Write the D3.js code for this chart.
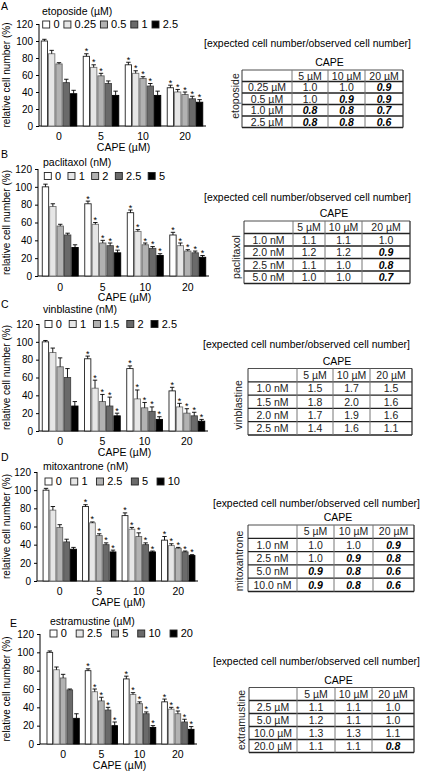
<!DOCTYPE html>
<html><head><meta charset="utf-8">
<script src="https://cdn.jsdelivr.net/npm/d3@7"></script>
<style>body{margin:0;background:#fff}svg{display:block}text{font-family:"Liberation Sans",Arial,Helvetica,sans-serif}</style>
</head><body><svg id="c" width="425" height="775"></svg>
<script>
// ---------- data ----------
const capeDoses = ["0","5","10","20"];
const yTicks = [0,20,40,60,80,100,120];
const tableCols = ["5 µM","10 µM","20 µM"];

// A etoposide
const etoLevels = ["0","0.25","0.5","1","2.5"];
const etoMeans  = [[100,85,73,51,38],[82,69,59,50,36],[72,62,56,47,36],[45,40,37,32,28]];
const etoErrors = [[2,4,1.5,4,4],[3,3,3,3,5],[3,3,2,3,5],[3,3,3,3,3]];
const etoStars  = [[0,0,0,0,0],[1,1,1,0,0],[1,1,1,1,0],[1,1,1,1,1]];
const etoRows   = ["0.25 µM","0.5 µM","1.0 µM","2.5 µM"];
const etoRatios = [["1.0","1.0","0.9"],["1.0","0.9","0.9"],["0.8","0.8","0.7"],["0.8","0.8","0.6"]];

// B paclitaxol
const pacLevels = ["0","1","2","2.5","5"];
const pacMeans  = [[100,78,56,46,32],[81,58,37,34,26],[71,50,35,31,23],[46,34,28,26,21]];
const pacErrors = [[3,3,2,2,3],[3,2,3,3,3],[3,2,2,2,2],[3,3,1.5,2,2]];
const pacStars  = [[0,0,0,0,0],[1,1,1,1,1],[1,1,1,1,1],[1,1,1,1,1]];
const pacRows   = ["1.0 nM","2.0 nM","2.5 nM","5.0 nM"];
const pacRatios = [["1.1","1.1","1.0"],["1.2","1.2","0.9"],["1.1","1.0","0.8"],["1.0","1.0","0.7"]];

// C vinblastine
const vinLevels = ["0","1","1.5","2","2.5"];
const vinMeans  = [[100,88,72,60,28],[81,48,33,28,17],[70,36,26,22,13],[45,27,20,17,11]];
const vinErrors = [[1.5,5,10,10,5],[3,9,8,10,3],[3,10,6,5,3],[4,4,5,4,2]];
const vinStars  = [[0,0,0,0,0],[1,1,1,1,1],[1,1,1,1,1],[1,1,1,1,1]];
const vinRows   = ["1.0 nM","1.5 nM","2.0 nM","2.5 nM"];
const vinRatios = [["1.5","1.7","1.5"],["1.8","2.0","1.6"],["1.7","1.9","1.6"],["1.4","1.6","1.1"]];

// D mitoxantrone
const mitLevels = ["0","1","2.5","5","10"];
const mitMeans  = [[100,78,59,43,35],[82,64,50,40,32],[72,57,49,40,32],[45,39,36,32,28]];
const mitErrors = [[2,4,3,3,2],[2,1,2,2,2],[3,2,4,2,1],[4,2,1,1,1]];
const mitStars  = [[0,0,0,0,0],[1,1,1,1,1],[1,1,1,1,1],[1,1,1,1,1]];
const mitRows   = ["1.0 nM","2.5 nM","5.0 nM","10.0 nM"];
const mitRatios = [["1.0","1.0","0.9"],["1.0","0.9","0.8"],["0.9","0.8","0.6"],["0.9","0.8","0.6"]];

// E estramustine
const estLevels = ["0","2.5","5","10","20"];
const estMeans  = [[100,81,72,59,28],[80,57,47,37,20],[71,54,44,33,18],[46,38,33,24,16]];
const estErrors = [[1.5,3,4,1,5],[2,3,4,3,4],[3,2,2,2,2],[3,2,3,3,3]];
const estStars  = [[0,0,0,0,0],[1,1,1,1,1],[1,1,1,1,1],[1,1,1,1,1]];
const estRows   = ["2.5 µM","5.0 µM","10.0 µM","20.0 µM"];
const estRatios = [["1.1","1.1","1.0"],["1.2","1.1","1.0"],["1.3","1.3","1.1"],["1.1","1.1","0.8"]];

// ---------- styling / layout ----------
const barFills   = ["#ffffff","#e6e6e6","#b2b2b2","#6a6a6a","#000000"];
const barStrokes = ["#222222","#777777","#666666","#444444","#000000"];
const FONT = '"Liberation Sans", Arial, sans-serif';

const panels = [
 {letter:"A", drug:"etoposide (µM)", tdrug:"etoposide", levels:etoLevels, means:etoMeans, errors:etoErrors, stars:etoStars, rows:etoRows, ratios:etoRatios,
  L:{lx:1, ly:10, dx:42, dy:15, legX:42.7, legEnd:178, legY:24.5, axisX:39, band:[38,206], yTop:24, yBot:126, xLabY:139.7, capeY:151, brX:204, brY:47, top:70, rowH:11.5, cols:[242,292,328,365,403], rotX:235, rotY:96}},
 {letter:"B", drug:"paclitaxol (nM)", tdrug:"paclitaxol", levels:pacLevels, means:pacMeans, errors:pacErrors, stars:pacStars, rows:pacRows, ratios:pacRatios,
  L:{lx:1, ly:158, dx:43, dy:166, legX:44.3, legEnd:165, legY:176, axisX:38, band:[39,209], yTop:169, yBot:276, xLabY:290.5, capeY:301, brX:204, brY:201, top:221, rowH:12.5, cols:[244,293,325,362,410], rotX:236, rotY:257}},
 {letter:"C", drug:"vinblastine (nM)", tdrug:"vinblastine", levels:vinLevels, means:vinMeans, errors:vinErrors, stars:vinStars, rows:vinRows, ratios:vinRatios,
  L:{lx:1, ly:308, dx:43, dy:313, legX:45, legEnd:177, legY:324, axisX:39, band:[39,208], yTop:324, yBot:431, xLabY:444.7, capeY:455.7, brX:203, brY:348, top:368.5, rowH:13.3, cols:[248,297,333,370,412], rotX:238, rotY:405}},
 {letter:"D", drug:"mitoxantrone (nM)", tdrug:"mitoxantrone", levels:mitLevels, means:mitMeans, errors:mitErrors, stars:mitStars, rows:mitRows, ratios:mitRatios,
  L:{lx:1, ly:461, dx:43, dy:470, legX:45, legEnd:180, legY:481.5, axisX:37, band:[40,198], yTop:472, yBot:581, xLabY:594.7, capeY:605.7, brX:213, brY:507, top:525, rowH:13.3, cols:[248,297,334,373,414], rotX:239, rotY:561}},
 {letter:"E", drug:"estramustine (µM)", tdrug:"extramustine", levels:estLevels, means:estMeans, errors:estErrors, stars:estStars, rows:estRows, ratios:estRatios,
  L:{lx:10, ly:627, dx:50, dy:625, legX:50, legEnd:193, legY:633.5, axisX:40, band:[44,197], yTop:634, yBot:744, xLabY:757.7, capeY:768.7, brX:213, brY:665, top:687.5, rowH:13, cols:[249,297,335,372,414], rotX:241, rotY:720}}
];

const svg = d3.select("#c");

panels.forEach(p => {
  const L = p.L;
  const g = svg.append("g");
  g.append("text").attr("x", L.lx).attr("y", L.ly).attr("font-size", 10.5).text(p.letter);
  g.append("text").attr("x", L.dx).attr("y", L.dy).attr("font-size", 10.5).text(p.drug);

  const x0 = d3.scaleBand().domain(capeDoses).range(L.band).paddingInner(0.13).paddingOuter(0.065);
  const x1 = d3.scaleBand().domain(p.levels).range([0, x0.bandwidth()]);
  const y = d3.scaleLinear().domain([0,120]).range([L.yBot, L.yTop]);

  const yAxis = d3.axisLeft(y).tickValues(yTicks).tickSize(3).tickPadding(3);
  const ya = g.append("g").attr("transform", `translate(${L.axisX},0)`).call(yAxis);
  ya.select(".domain").attr("stroke","#000").attr("d", `M0,${L.yBot}V${L.yTop}`);
  ya.selectAll("text").attr("font-size", 10).attr("font-family", FONT).attr("fill","#000");
  const xa = g.append("g").attr("transform", `translate(0,${L.yBot})`).call(d3.axisBottom(x0).tickSize(0).tickPadding(0));
  xa.select(".domain").attr("d", `M${L.axisX},0H${L.band[1]}`).attr("stroke","#000");
  xa.selectAll("text").attr("font-size", 10.5).attr("font-family", FONT).attr("dy", null).attr("y", L.xLabY - L.yBot);

  g.append("text").attr("transform", `translate(6,${(L.yTop+L.yBot)/2}) rotate(-90)`)
    .attr("text-anchor","middle").attr("dy","0.35em").attr("font-size",10).text("relative cell number (%)");
  g.append("text").attr("x", (L.axisX + L.band[1])/2 + 1).attr("y", L.capeY).attr("text-anchor","middle")
    .attr("font-size",10.5).text("CAPE (µM)");

  const recs = [];
  capeDoses.forEach((c, ci) => p.levels.forEach((lv, li) => recs.push({c, lv, li, m:p.means[ci][li], e:p.errors[ci][li], s:p.stars[ci][li]})));
  const bw = x1.bandwidth();
  const grp = g.append("g");
  grp.selectAll("rect.bar").data(recs).join("rect").attr("class","bar")
    .attr("x", d => x0(d.c) + x1(d.lv) + 0.5).attr("width", bw - 1)
    .attr("y", d => y(d.m)).attr("height", d => y(0) - y(d.m))
    .attr("fill", d => barFills[d.li]).attr("stroke", d => barStrokes[d.li]).attr("stroke-width", 0.9);
  grp.selectAll("path.err").data(recs).join("path").attr("class","err")
    .attr("d", d => { const cx = x0(d.c) + x1(d.lv) + bw/2; const t = y(d.m + d.e);
      return `M${cx},${y(d.m)}V${t}M${cx-2.2},${t}H${cx+2.2}`; })
    .attr("stroke","#000").attr("stroke-width",0.9).attr("fill","none");
  grp.selectAll("text.star").data(recs.filter(d => d.s)).join("text").attr("class","star")
    .attr("x", d => x0(d.c) + x1(d.lv) + bw/2).attr("y", d => y(d.m + d.e) + 0.5)
    .attr("text-anchor","middle").attr("font-size", 9).text("*");

  // legend: natural layout, extra space spread between items so the last label ends at legEnd
  const box = 7, tGap = 3.7, fs = 11;
  const lg = g.append("g");
  const texts = p.levels.map(lv => lg.append("text").attr("font-size", fs).attr("dy","0.36em").attr("y", L.legY).text(lv));
  const widths = texts.map(t => t.node().getComputedTextLength());
  const natural = p.levels.length * (box + tGap) + d3.sum(widths);
  const gap = Math.max(3, (L.legEnd - L.legX - natural) / (p.levels.length - 1));
  let lx = L.legX;
  p.levels.forEach((lv, i) => {
    lg.append("rect").attr("x", lx).attr("y", L.legY - box/2).attr("width", box).attr("height", box)
      .attr("fill", barFills[i]).attr("stroke", "#222").attr("stroke-width", 0.9);
    texts[i].attr("x", lx + box + tGap);
    lx += box + tGap + widths[i] + gap;
  });

  // table
  const cols = L.cols, top = L.top, rh = L.rowH;
  const tc = (cols[0] + cols[4]) / 2;
  g.append("text").attr("x", L.brX).attr("y", L.brY).attr("font-size", 10.4).text("[expected cell number/observed cell number]");
  g.append("text").attr("x", tc + 7).attr("y", top - 4).attr("text-anchor","middle").attr("font-size", 10.5).text("CAPE");
  const tg = g.append("g");
  for (let r = 0; r <= 5; r++) {
    tg.append("line").attr("x1", cols[0]).attr("x2", cols[4]).attr("y1", top + r*rh).attr("y2", top + r*rh)
      .attr("stroke", "#222").attr("stroke-width", r === 0 ? 0.8 : 1.3);
  }
  cols.forEach((cx, i) => {
    tg.append("line").attr("x1", cx).attr("x2", cx).attr("y1", top).attr("y2", top + 5*rh)
      .attr("stroke", i === 0 || i === 4 ? "#333" : "#777").attr("stroke-width", i === 4 ? 1.3 : 1);
  });
  tableCols.forEach((h, j) => {
    tg.append("text").attr("x", (cols[j+1] + cols[j+2]) / 2).attr("y", top + rh/2).attr("dy","0.36em")
      .attr("text-anchor","middle").attr("font-size", 10.5).attr("fill","#222").text(h);
  });
  p.rows.forEach((rl, r) => {
    const cy = top + (r + 1.5) * rh;
    tg.append("text").attr("x", (cols[0] + cols[1]) / 2).attr("y", cy).attr("dy","0.36em")
      .attr("text-anchor","middle").attr("font-size", 10.5).attr("fill","#222").text(rl);
    p.ratios[r].forEach((v, j) => {
      const bold = +v < 1;
      tg.append("text").attr("x", (cols[j+1] + cols[j+2]) / 2).attr("y", cy).attr("dy","0.36em")
        .attr("text-anchor","middle").attr("font-size", 10.5)
        .attr("font-weight", bold ? "bold" : null).attr("font-style", bold ? "italic" : null)
        .attr("fill", bold ? "#000" : "#222").text(v);
    });
  });
  g.append("text").attr("transform", `translate(${L.rotX},${L.rotY}) rotate(-90)`)
    .attr("text-anchor","middle").attr("dy","0.35em").attr("font-size", 10.5).attr("fill","#222").text(p.tdrug);
});
</script></body></html>
